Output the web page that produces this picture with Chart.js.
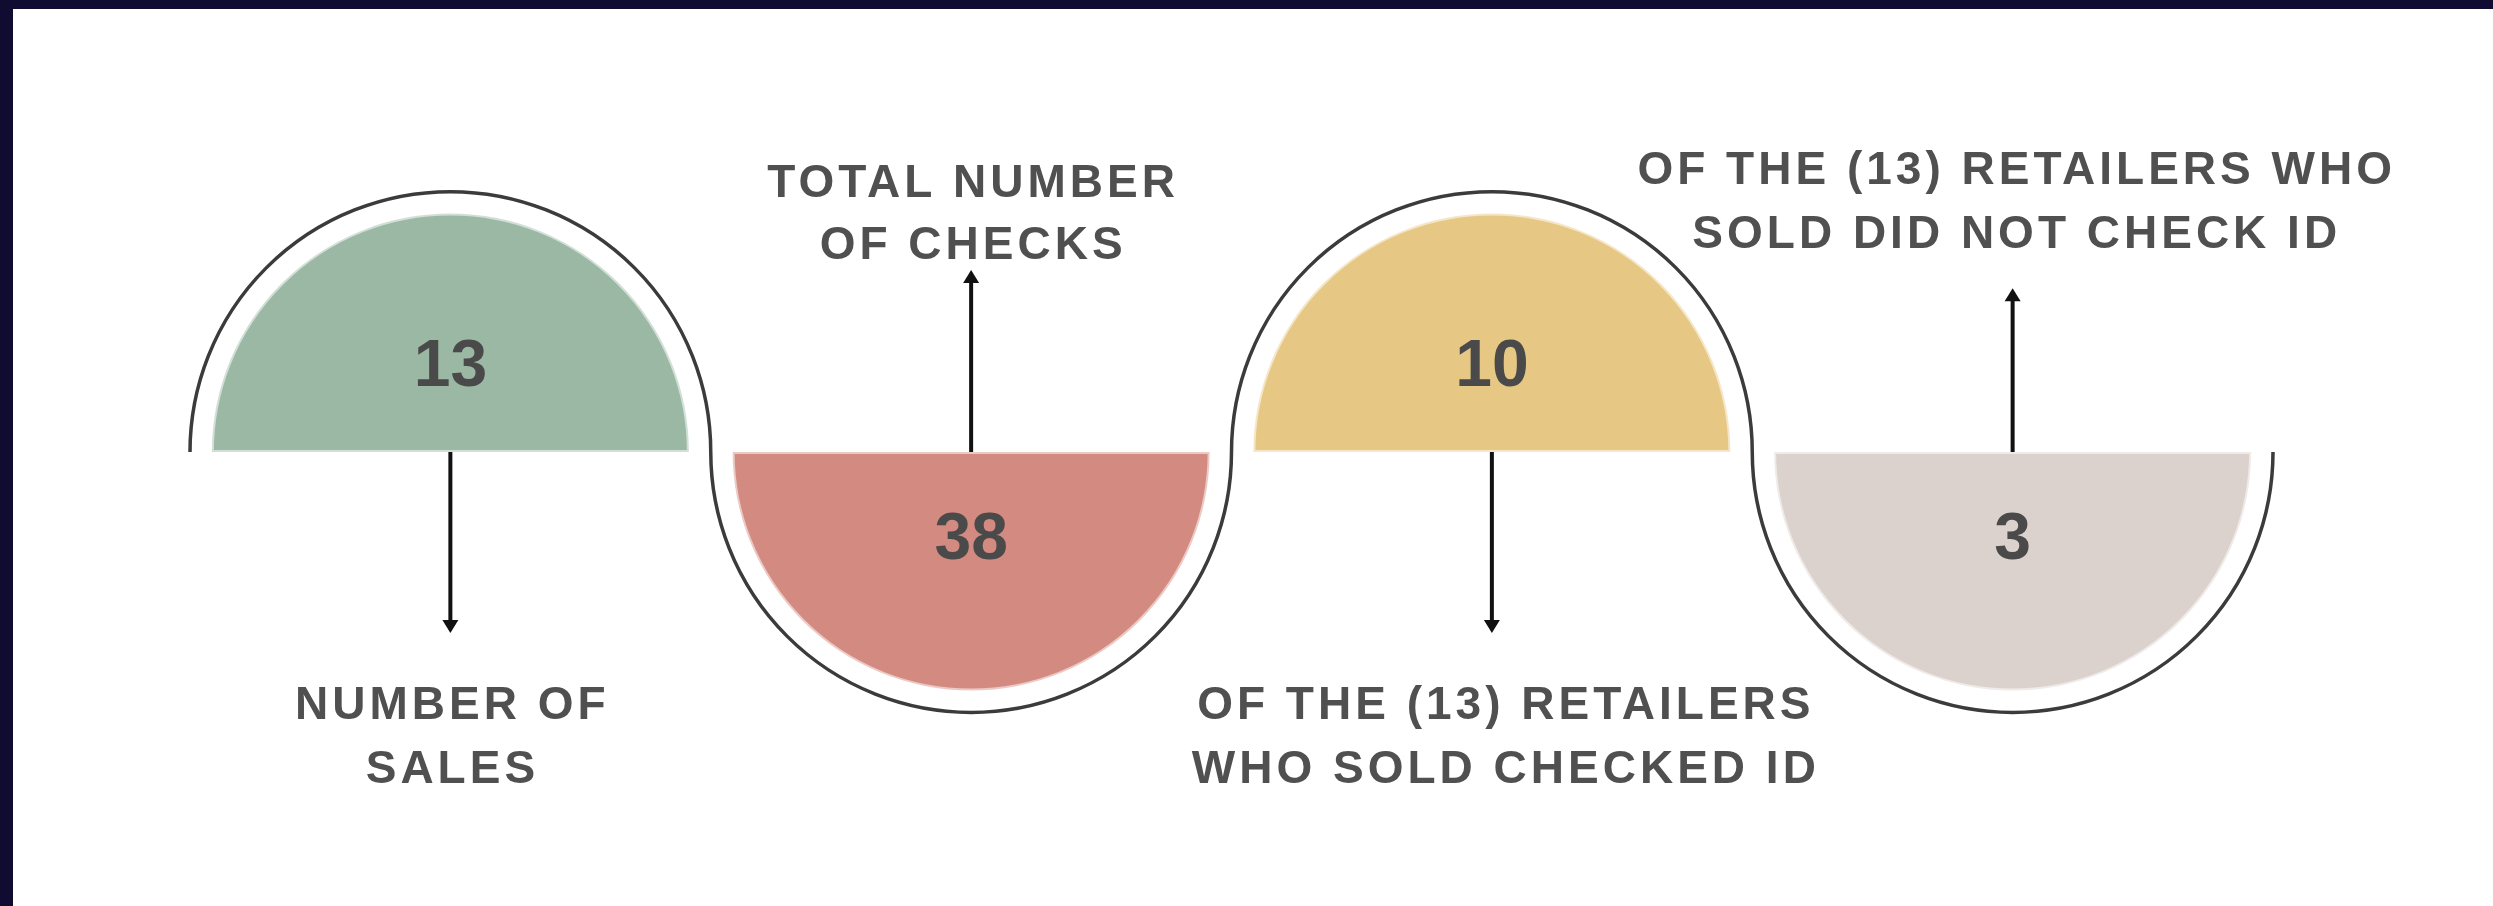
<!DOCTYPE html>
<html>
<head>
<meta charset="utf-8">
<script src="https://cdn.jsdelivr.net/npm/chart.js@4.4.0/dist/chart.umd.min.js"></script>
<style>
    html, body { margin: 0; padding: 0; background: #0f0b31; }
    #wrap { position: absolute; left: 0; top: 0; width: 2493px; height: 906px; background: #0f0b31; }
    #chart { position: absolute; left: 13px; top: 9px; background: #ffffff; }
</style>
</head>
<body>
<div id="wrap"><canvas id="chart" width="2480" height="897"></canvas></div>
<script>
// du lieu
const categories = ['Number of sales', 'Total number of checks', 'Sold and checked ID', 'Sold and did not check ID'];
const values = [13, 38, 10, 3];
const labelLines = [
    ['NUMBER OF', 'SALES'],
    ['TOTAL NUMBER', 'OF CHECKS'],
    ['OF THE (13) RETAILERS', 'WHO SOLD CHECKED ID'],
    ['OF THE (13) RETAILERS WHO', 'SOLD DID NOT CHECK ID']
];

const fillColors = ['#9bb8a5', '#d38a80', '#e6c884', '#dcd2cd'];

// half circles, wave outline, arrows and labels
const halfCircles = {
    id: 'halfCircles',
    afterDatasetsDraw(chart) {
        const ctx = chart.ctx;
        const ys = chart.scales.y;
        const xs = chart.scales.x;
        const pts = chart.getDatasetMeta(0).data;
        const unit = xs.getPixelForValue(1) - xs.getPixelForValue(0);
        const rOuter = unit / 2;
        const rFill = unit * 0.458;

        ctx.save();
        pts.forEach((p, i) => {
            const up = i % 2 === 0;
            ctx.beginPath();
            if (up) ctx.arc(p.x, p.y, rFill, Math.PI, 0, false);
            else ctx.arc(p.x, p.y, rFill, 0, Math.PI, false);
            ctx.closePath();
            ctx.fillStyle = fillColors[i];
            ctx.fill();
            ctx.strokeStyle = 'rgba(255,255,255,0.55)';
            ctx.lineWidth = 4;
            ctx.stroke();
        });

        // duong song
        ctx.beginPath();
        pts.forEach((p, i) => {
            ctx.arc(p.x, p.y, rOuter, Math.PI, 0, i % 2 !== 0);
        });
        ctx.strokeStyle = '#3b3b3b';
        ctx.lineWidth = 3.5;
        ctx.stroke();

        // mui ten
        const tips = [-0.696, 0.70, -0.696, 0.63];
        pts.forEach((p, i) => {
            const ty = ys.getPixelForValue(tips[i]);
            const dir = ty < p.y ? -1 : 1;
            ctx.beginPath();
            ctx.moveTo(p.x, p.y);
            ctx.lineTo(p.x, ty - dir * 8);
            ctx.strokeStyle = '#111111';
            ctx.lineWidth = 4;
            ctx.stroke();
            ctx.beginPath();
            ctx.moveTo(p.x, ty);
            ctx.lineTo(p.x - 8, ty - dir * 13);
            ctx.lineTo(p.x + 8, ty - dir * 13);
            ctx.closePath();
            ctx.fillStyle = '#111111';
            ctx.fill();
        });

        // so lieu
        ctx.textAlign = 'center';
        ctx.textBaseline = 'alphabetic';
        ctx.fillStyle = '#4a4a4a';
        ctx.font = 'bold 66px "Liberation Sans", Arial, sans-serif';
        pts.forEach((p, i) => {
            const cy = ys.getPixelForValue(i % 2 === 0 ? 0.346 : -0.32);
            ctx.fillText(String(values[i]), p.x, cy + 23.5);
        });

        // nhan
        const lineY = [[-0.965, -1.208], [1.046, 0.804], [-0.965, -1.208], [1.096, 0.85]];
        const shiftX = [0, 0, 0.023, 0.004];
        ctx.font = 'bold 46px "Liberation Sans", Arial, sans-serif';
        ctx.letterSpacing = '4px';
        ctx.fillStyle = '#505050';
        pts.forEach((p, i) => {
            const lx = xs.getPixelForValue(i + shiftX[i]) + 2;
            labelLines[i].forEach((line, k) => {
                const cy = ys.getPixelForValue(lineY[i][k]);
                ctx.fillText(line, lx, cy + 16.5);
            });
        });
        ctx.restore();
    }
};

new Chart(document.getElementById('chart'), {
    type: 'scatter',
    data: {
        labels: categories,
        datasets: [{
            label: 'Retail checks',
            data: values.map((v, i) => ({ x: i, y: 0 })),
            pointRadius: 0,
            pointHoverRadius: 0
        }]
    },
    options: {
        responsive: false,
        animation: false,
        devicePixelRatio: 1,
        events: [],
        layout: { padding: { left: 177, right: 220, top: 183, bottom: 194 } },
        scales: {
            x: { type: 'linear', min: -0.5, max: 3.5, display: false },
            y: { type: 'linear', min: -1, max: 1, display: false }
        },
        plugins: {
            legend: { display: false },
            tooltip: { enabled: false }
        }
    },
    plugins: [halfCircles]
});
</script>
</body>
</html>
